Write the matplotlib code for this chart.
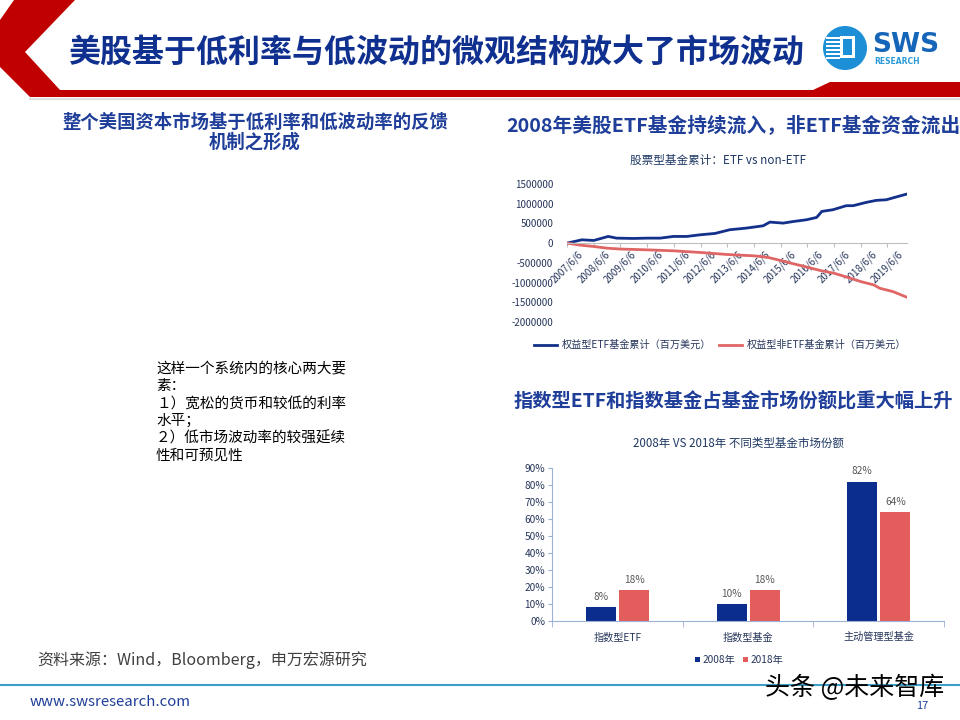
import matplotlib
matplotlib.use('Agg')
import matplotlib.pyplot as plt
from matplotlib.patches import Polygon, Circle, Rectangle
import pandas as pd
import numpy as np

plt.rcParams['font.family'] = ['Noto Sans CJK SC', 'DejaVu Sans']

# line chart data (millions USD)
etf_dates = ['2007-06-06', '2007-12-28', '2008-06-06', '2008-12-20', '2009-04-15', '2009-12-01',
             '2010-06-06', '2010-12-01', '2011-06-01', '2011-12-01', '2012-06-01', '2012-12-20',
             '2013-07-10', '2014-02-20', '2014-10-10', '2015-01-10', '2015-07-10', '2015-12-01',
             '2016-05-25', '2016-10-10', '2016-12-20', '2017-05-20', '2017-11-20', '2018-02-20',
             '2018-08-20', '2019-01-05', '2019-05-20', '2019-10-01', '2020-02-28']
etf_values = [0, 85000, 68000, 170000, 127000, 119000,
              127000, 127000, 170000, 170000, 212000, 246000,
              340000, 381000, 440000, 534000, 508000, 550000,
              593000, 652000, 805000, 847000, 950000, 950000,
              1034000, 1085000, 1100000, 1170000, 1246000]

non_etf_dates = ['2007-06-06', '2007-12-01', '2008-06-06', '2008-12-01', '2009-06-06', '2010-06-06',
                 '2011-06-06', '2012-06-06', '2013-06-06', '2014-06-06', '2014-12-01', '2015-06-06',
                 '2015-12-01', '2016-06-06', '2016-12-01', '2017-06-06', '2017-12-01', '2018-06-06',
                 '2018-12-01', '2019-02-20', '2019-08-20', '2020-02-28']
non_etf_values = [0, -50000, -85000, -127000, -150000, -170000,
                  -195000, -237000, -288000, -322000, -356000, -440000,
                  -525000, -610000, -695000, -763000, -864000, -975000,
                  -1059000, -1144000, -1229000, -1373000]

tick_years = list(range(2007, 2020))

# bar chart data
bar_categories = ['指数型ETF', '指数型基金', '主动管理型基金']
share_2008 = [0.08, 0.10, 0.82]
share_2018 = [0.18, 0.18, 0.64]

navy = '#10308F'
red = '#C00000'
txt_blue = '#26355A'

fig = plt.figure(figsize=(9.6, 7.2), dpi=100)
bg = fig.add_axes([0, 0, 1, 1])
bg.set_xlim(0, 960)
bg.set_ylim(720, 0)
bg.axis('off')

# header shape
bg.add_patch(Polygon([(14, 0), (75, 0), (25, 52), (60, 90), (813, 90), (830, 82), (960, 82),
                      (960, 97), (30, 97), (0, 67), (0, 20)], closed=True, color=red, lw=0))
bg.plot([30, 960], [99, 99], color='#E0E0E0', lw=1.5)
bg.text(68, 53, '美股基于低利率与低波动的微观结构放大了市场波动', fontsize=23, fontweight='bold',
        color=navy, va='center', ha='left')

# logo
bg.add_patch(Circle((845, 48), 22, color='#1C8FD6', lw=0))
for k in range(6):
    bg.add_patch(Rectangle((826, 37 + k * 4), 14, 1.6, color='white', lw=0))
bg.add_patch(Rectangle((840, 36), 15, 22, color='white', lw=0))
bg.add_patch(Rectangle((843, 39), 9, 16, color='#1C8FD6', lw=0))
bg.text(872, 45, 'SWS', fontsize=19, fontweight='bold', color='#1565B8', va='center', ha='left',
        family='DejaVu Sans')
bg.text(874, 61, 'RESEARCH', fontsize=5.5, fontweight='bold', color='#2A9AD8', va='center', ha='left',
        family='DejaVu Sans')

# left column
bg.text(255, 122, '整个美国资本市场基于低利率和低波动率的反馈', fontsize=13.2, fontweight='bold',
        color='#1F3E99', ha='center', va='center')
bg.text(255, 142, '机制之形成', fontsize=13.2, fontweight='bold', color='#1F3E99', ha='center', va='center')
body = ['这样一个系统内的核心两大要', '素：', '１）宽松的货币和较低的利率', '水平；',
        '２）低市场波动率的较强延续', '性和可预见性']
for i, line in enumerate(body):
    bg.text(156, 368 + i * 17.6, line, fontsize=10.5, color='black', ha='left', va='center')

# right headings
bg.text(733, 126, '2008年美股ETF基金持续流入，非ETF基金资金流出', fontsize=14.2, fontweight='bold',
        color='#1F3E99', ha='center', va='center')
bg.text(733, 401, '指数型ETF和指数基金占基金市场份额比重大幅上升', fontsize=13.9, fontweight='bold',
        color='#1F3E99', ha='center', va='center')
bg.text(718, 160, '股票型基金累计：ETF vs non-ETF', fontsize=8.4, color='#1F3864', ha='center', va='center')
bg.text(738, 443, '2008年 VS 2018年 不同类型基金市场份额', fontsize=8.3, color='#1F3864',
        ha='center', va='center')

# footer
bg.text(37, 660, '资料来源：Wind，Bloomberg，申万宏源研究', fontsize=11.5, color='#404040',
        ha='left', va='center')
bg.plot([0, 960], [685, 685], color='#3AA0C8', lw=1.5)
bg.text(30, 702, 'www.swsresearch.com', fontsize=10.8, color='#1F3E99', ha='left', va='center')
bg.text(922, 706, '17', fontsize=8, color='#1F3E99', ha='center', va='center')
bg.text(855, 688, '头条 @未来智库', fontsize=18, color='black', ha='center', va='center')

# line chart
ax1 = fig.add_axes([567 / 960, 1 - 322 / 720, 340 / 960, 138 / 720])
ax1.plot(pd.to_datetime(etf_dates), etf_values, color='#13308A', lw=2,
         label='权益型ETF基金累计（百万美元）')
ax1.plot(pd.to_datetime(non_etf_dates), non_etf_values, color='#E06666', lw=2,
         label='权益型非ETF基金累计（百万美元）')
ax1.set_xlim(pd.Timestamp('2007-06-06'), pd.Timestamp('2020-02-28'))
ax1.set_ylim(-2000000, 1500000)
ax1.set_yticks(np.arange(-2000000, 1500001, 500000))
ax1.set_yticklabels(['%d' % v for v in np.arange(-2000000, 1500001, 500000)])
ax1.tick_params(axis='y', length=0, labelsize=7, labelcolor=txt_blue, pad=10)
ax1.set_xticks([pd.Timestamp('%d-06-06' % y) for y in tick_years])
ax1.set_xticklabels(['%d/6/6' % y for y in tick_years])
ax1.tick_params(axis='x', length=3, color='#BFBFBF', pad=1, labelsize=7, labelcolor=txt_blue,
                labelrotation=45)
for lab in ax1.get_xticklabels():
    lab.set_horizontalalignment('right')
    lab.set_rotation_mode('anchor')
for s in ['top', 'right', 'left']:
    ax1.spines[s].set_visible(False)
ax1.spines['bottom'].set_position(('data', 0))
ax1.spines['bottom'].set_color('#BFBFBF')
ax1.patch.set_alpha(0)
fig.legend(*ax1.get_legend_handles_labels(), loc='center', bbox_to_anchor=(720 / 960, 1 - 345 / 720),
           ncol=2, frameon=False, fontsize=7.3, handlelength=2.3, handletextpad=0.4, columnspacing=0.8,
           labelcolor=txt_blue)

# bar chart
ax2 = fig.add_axes([552 / 960, 1 - 621 / 720, 392 / 960, 153 / 720])
x = np.arange(len(bar_categories))
w = 0.23
b1 = ax2.bar(x - 0.125, share_2008, w, color='#0A2D8E', label='2008年')
b2 = ax2.bar(x + 0.128, share_2018, w, color='#E35D5D', label='2018年')
for bars, vals in [(b1, share_2008), (b2, share_2018)]:
    for r, v in zip(bars, vals):
        ax2.text(r.get_x() + r.get_width() / 2, v + 0.03, '%d%%' % round(v * 100), ha='center', va='bottom',
                 fontsize=7.3, color='#595959')
ax2.set_xlim(-0.5, 2.5)
ax2.set_ylim(0, 0.9)
ax2.set_yticks(np.arange(0, 0.91, 0.1))
ax2.set_yticklabels(['%d%%' % (t * 10) for t in range(10)], fontsize=7.3, color=txt_blue)
ax2.set_xticks(x)
ax2.set_xticklabels(bar_categories, fontsize=7.3, color=txt_blue)
ax2.set_xticks([-0.5, 0.5, 1.5, 2.5], minor=True)
ax2.tick_params(axis='x', which='major', length=0, pad=8)
ax2.tick_params(axis='x', which='minor', length=4, color='#9DB0D5')
ax2.tick_params(axis='y', length=3, color='#9DB0D5', pad=2)
for s in ['top', 'right']:
    ax2.spines[s].set_visible(False)
ax2.spines['left'].set_color('#9DB0D5')
ax2.spines['bottom'].set_color('#9DB0D5')
ax2.patch.set_alpha(0)
fig.legend([b1, b2], ['2008年', '2018年'], loc='center', bbox_to_anchor=(739 / 960, 1 - 660 / 720),
           ncol=2, frameon=False, fontsize=7.3, handlelength=0.5, handleheight=0.5, handletextpad=0.2,
           columnspacing=0.8, labelcolor=txt_blue)

fig.savefig('out.png', dpi=100)
